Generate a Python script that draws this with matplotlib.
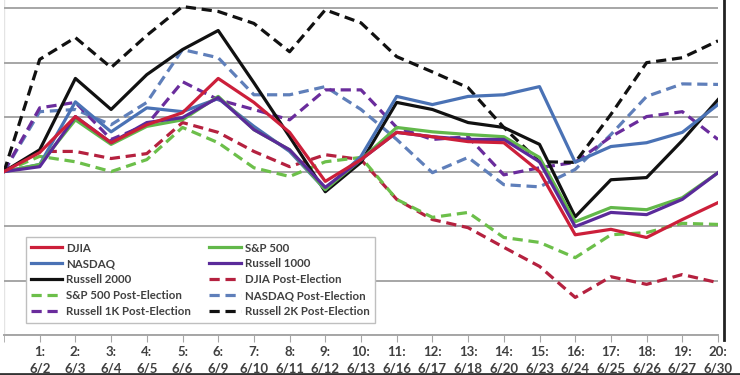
import matplotlib
matplotlib.use("Agg")
import matplotlib.pyplot as plt
from matplotlib.lines import Line2D

# trading days (x = 0 is the start point)
days = ['6/2', '6/3', '6/4', '6/5', '6/6', '6/9', '6/10', '6/11', '6/12', '6/13',
        '6/16', '6/17', '6/18', '6/20', '6/23', '6/24', '6/25', '6/26', '6/27', '6/30']
tick_labels = [f"{i + 1}:\n{d}" for i, d in enumerate(days)]

# cumulative % change
djia = [0, 0.35, 1.01, 0.53, 0.86, 1.08, 1.71, 1.27, 0.72, -0.18, 0.22,
        0.72, 0.64, 0.55, 0.53, 0.00, -1.16, -1.06, -1.21, -0.88, -0.57]
sp500 = [0, 0.13, 0.95, 0.50, 0.83, 0.95, 1.38, 0.77, 0.40, -0.33, 0.22,
         0.81, 0.73, 0.68, 0.64, 0.26, -0.92, -0.66, -0.70, -0.48, -0.02]
nasdaq = [0, 0.13, 1.28, 0.73, 1.17, 1.10, 1.34, 0.83, 0.37, -0.33, 0.28,
          1.38, 1.23, 1.38, 1.41, 1.56, 0.17, 0.46, 0.53, 0.72, 1.23]
r1000 = [0, 0.09, 1.01, 0.53, 0.90, 0.99, 1.36, 0.77, 0.40, -0.29, 0.22,
         0.72, 0.64, 0.59, 0.59, 0.18, -1.01, -0.75, -0.79, -0.51, -0.02]
r2000 = [0, 0.40, 1.71, 1.14, 1.78, 2.24, 2.59, 1.63, 0.64, -0.37, 0.17,
         1.27, 1.14, 0.90, 0.81, 0.50, -0.83, -0.15, -0.11, 0.57, 1.32]
djia_pe = [0, 0.37, 0.37, 0.24, 0.33, 0.90, 0.72, 0.37, 0.09, 0.31, 0.22,
           -0.51, -0.88, -1.03, -1.39, -1.74, -2.31, -1.93, -2.07, -1.89, -2.04]
sp500_pe = [0, 0.28, 0.18, 0.00, 0.22, 0.81, 0.53, 0.07, -0.09, 0.18, 0.26,
            -0.51, -0.84, -0.75, -1.21, -1.30, -1.58, -1.16, -1.12, -0.95, -0.97]
nasdaq_pe = [0, 1.10, 1.14, 0.86, 1.27, 2.24, 2.09, 1.41, 1.41, 1.56, 1.14,
             0.59, -0.02, 0.26, -0.24, -0.28, 0.04, 0.68, 1.38, 1.61, 1.60]
r1k_pe = [0, 1.17, 1.27, 0.59, 0.86, 1.65, 1.32, 1.14, 0.95, 1.50, 1.50,
          0.81, 0.59, 0.64, -0.06, 0.07, 0.17, 0.64, 1.01, 1.10, 0.59]
r2k_pe = [0, 2.06, 2.46, 1.91, 2.50, 3.03, 2.94, 2.72, 2.20, 2.97, 2.73,
          2.11, 1.83, 1.54, 0.81, 0.18, 0.17, 1.05, 2.00, 2.09, 2.40]

# (label, values, colour, dashed)
series = [
    ('DJIA Post-Election', djia_pe, '#b5213f', True),
    ('S&P 500 Post-Election', sp500_pe, '#6cbf4a', True),
    ('NASDAQ Post-Election', nasdaq_pe, '#5f7fba', True),
    ('Russell 1K Post-Election', r1k_pe, '#6a2c9c', True),
    ('Russell 2K Post-Election', r2k_pe, '#111111', True),
    ('Russell 2000', r2000, '#111111', False),
    ('NASDAQ', nasdaq, '#4a72b5', False),
    ('S&P 500', sp500, '#62b84a', False),
    ('Russell 1000', r1000, '#5a2a9a', False),
    ('DJIA', djia, '#cc1f3a', False),
]

fig = plt.figure(figsize=(7.4, 3.75), dpi=100)
fig.patch.set_facecolor('white')
ax = fig.add_axes([4 / 740, 1 - 335 / 375, 714 / 740, 335 / 375])

x = list(range(len(djia)))
handles = {}
for label, vals, col, dashed in series:
    if dashed:
        ln, = ax.plot(x, vals, color=col, lw=2.3, linestyle=(0, (3.2, 1.8)),
                      label=label, zorder=3)
    else:
        ln, = ax.plot(x, vals, color=col, lw=2.3, label=label, zorder=4)
    handles[label] = ln

ax.set_xlim(0, 20)
ax.set_ylim(-3, 3.15)
ax.set_yticks([-3, -2, -1, 0, 1, 2, 3])
ax.set_yticklabels([])
ax.tick_params(axis='y', length=0)
ax.yaxis.grid(True, color='#a6a6a6', lw=1.4, zorder=0)
ax.set_xticks(range(1, 21))
ax.set_xticks(range(0, 21), minor=True)
ax.xaxis.grid(True, which='minor', color='#e4e4e4', lw=1.0, zorder=0)
ax.set_xticklabels(tick_labels, fontsize=9.5, fontweight='bold', color='#404040',
                   family='Lato', linespacing=1.4)
ax.tick_params(axis='x', which='both', length=5, color='#a6a6a6', pad=3)
for side in ['top', 'right', 'left']:
    ax.spines[side].set_visible(False)
ax.spines['bottom'].set_color('#a6a6a6')
ax.spines['bottom'].set_linewidth(1.4)

order = ['DJIA', 'NASDAQ', 'Russell 2000', 'S&P 500 Post-Election', 'Russell 1K Post-Election',
         'S&P 500', 'Russell 1000', 'DJIA Post-Election', 'NASDAQ Post-Election',
         'Russell 2K Post-Election']
leg = ax.legend([handles[k] for k in order], order, ncol=2, loc='lower left',
                bbox_to_anchor=(0.0225, 0.02), fancybox=False, framealpha=1,
                edgecolor='#bfbfbf', handlelength=2.7, columnspacing=1.6,
                labelspacing=0.43, borderpad=0.45, handletextpad=0.35,
                prop={'family': 'Lato', 'weight': 'bold', 'size': 8.3})
leg.get_frame().set_linewidth(1.0)
for t in leg.get_texts():
    t.set_color('#404040')
leg.set_zorder(6)

# dark edges of the screenshot
fig.add_artist(Line2D([724 / 740, 724 / 740], [35 / 375, 1], color='#222222', lw=2))
fig.add_artist(Line2D([0, 1], [1.5 / 375, 1.5 / 375], color='#333333', lw=2))

fig.savefig('out.png', dpi=100)
